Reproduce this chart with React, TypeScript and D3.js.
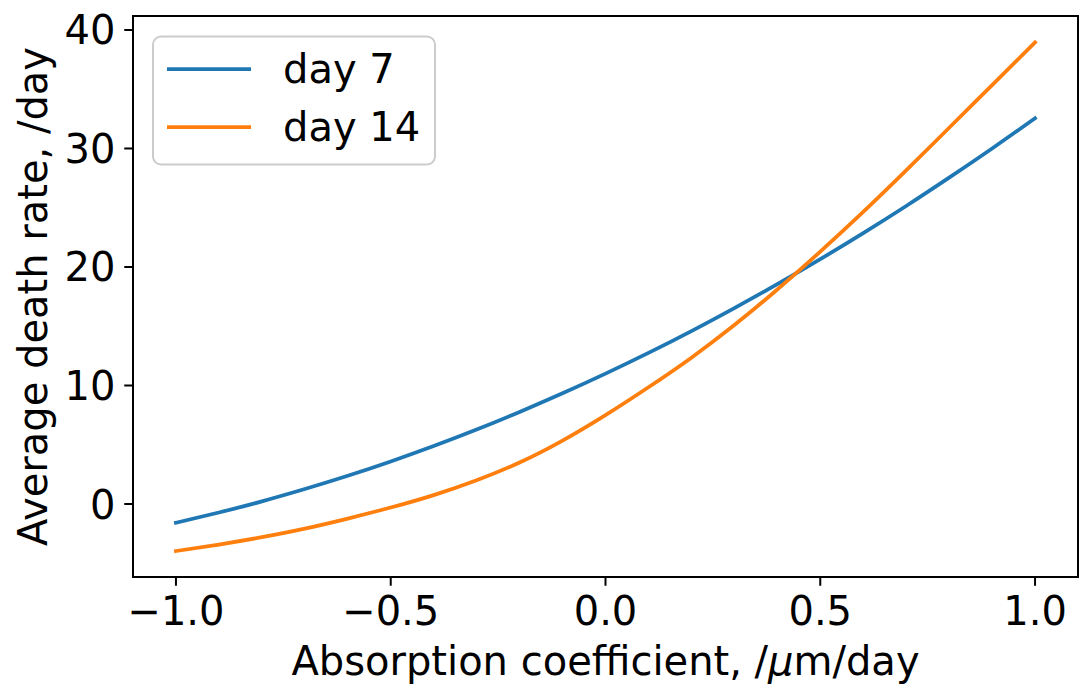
import React from "react";
import * as d3 from "d3";

// Absorption coefficient samples (/µm/day)
const absorption = [
  -1.0, -0.9, -0.8, -0.7, -0.6, -0.5, -0.4, -0.3, -0.2, -0.1, 0.0,
  0.1, 0.2, 0.3, 0.4, 0.5, 0.6, 0.7, 0.8, 0.9, 1.0,
];

// Average death rate (/day) at day 7
const day7 = [
  -1.58, -0.72, 0.22, 1.26, 2.38, 3.59, 4.89, 6.28, 7.77, 9.34, 11.0,
  12.75, 14.59, 16.53, 18.55, 20.66, 22.86, 25.15, 27.54, 30.0, 32.55,
];

// Average death rate (/day) at day 14
const day14 = [
  -3.97, -3.42, -2.8, -2.08, -1.23, -0.3, 0.75, 2.0, 3.5, 5.35, 7.5,
  9.85, 12.35, 15.1, 18.1, 21.3, 24.65, 28.15, 31.75, 35.35, 38.96,
];

const xTicks = [-1.0, -0.5, 0.0, 0.5, 1.0];
const yTicks = [0, 10, 20, 30, 40];

const seriesNames = ["day 7", "day 14"];
const seriesColors = ["#1f77b4", "#ff7f0e"];

const W = 1081;
const H = 689;
const left = 133;
const right = 1078;
const top = 16;
const bottom = 577;
const FONT = "'DejaVu Sans', sans-serif";
const FS = 40;
const TICK = 8.75;
const PAD = 8.75;

const fmtX = (v: number) => {
  const s = Math.abs(v).toFixed(1);
  return v < 0 ? "\u2212" + s : s;
};

export default function App() {
  const x = d3.scaleLinear().domain([-1.1, 1.1]).range([left, right]);
  const y = d3.scaleLinear().domain([-6.16, 41.18]).range([bottom, top]);

  const line = d3
    .line<number>()
    .x((_, i) => x(absorption[i]))
    .y((d) => y(d))
    .curve(d3.curveNatural);

  const series = [day7, day14];

  // legend geometry
  const legX = left + 20;
  const legY = top + 20.5;
  const legW = 282;
  const legH = 128;
  const rowY = [legY + 32.5, legY + 90.5];

  return (
    <svg
      width={W}
      height={H}
      style={{ position: "absolute", left: 0, top: 0, background: "#fff" }}
      fontFamily={FONT}
    >
      <rect x={0} y={0} width={W} height={H} fill="#fff" />

      {series.map((s, k) => (
        <path
          key={k}
          d={line(s) || ""}
          fill="none"
          stroke={seriesColors[k]}
          strokeWidth={3.75}
          strokeLinecap="square"
        />
      ))}

      {/* axes frame */}
      <rect
        x={left}
        y={top}
        width={right - left}
        height={bottom - top}
        fill="none"
        stroke="#000"
        strokeWidth={2}
      />

      {/* x axis ticks */}
      {xTicks.map((t) => (
        <g key={t}>
          <line
            x1={x(t)}
            x2={x(t)}
            y1={bottom}
            y2={bottom + TICK}
            stroke="#000"
            strokeWidth={2}
          />
          <text
            x={x(t)}
            y={bottom + TICK + PAD + 30.5}
            fontSize={FS}
            textAnchor="middle"
            fill="#000"
          >
            {fmtX(t)}
          </text>
        </g>
      ))}

      {/* y axis ticks */}
      {yTicks.map((t) => (
        <g key={t}>
          <line
            x1={left - TICK}
            x2={left}
            y1={y(t)}
            y2={y(t)}
            stroke="#000"
            strokeWidth={2}
          />
          <text
            x={left - TICK - PAD}
            y={y(t) + 14.5}
            fontSize={FS}
            textAnchor="end"
            fill="#000"
          >
            {t}
          </text>
        </g>
      ))}

      {/* axis labels */}
      <text
        x={(left + right) / 2}
        y={675}
        fontSize={FS}
        textAnchor="middle"
        fill="#000"
      >
        Absorption coefficient, /<tspan fontStyle="italic">μ</tspan>m/day
      </text>
      <text
        transform={`translate(47,${(top + bottom) / 2}) rotate(-90)`}
        fontSize={FS}
        textAnchor="middle"
        fill="#000"
      >
        Average death rate, /day
      </text>

      {/* legend */}
      <rect
        x={legX}
        y={legY}
        width={legW}
        height={legH}
        rx={8}
        ry={8}
        fill="#fff"
        fillOpacity={0.8}
        stroke="#cccccc"
        strokeWidth={2}
      />
      {seriesNames.map((name, k) => (
        <g key={name}>
          <line
            x1={legX + 14}
            x2={legX + 98}
            y1={rowY[k]}
            y2={rowY[k]}
            stroke={seriesColors[k]}
            strokeWidth={3.75}
          />
          <text x={legX + 130} y={rowY[k] + 14} fontSize={FS} fill="#000">
            {name}
          </text>
        </g>
      ))}
    </svg>
  );
}
